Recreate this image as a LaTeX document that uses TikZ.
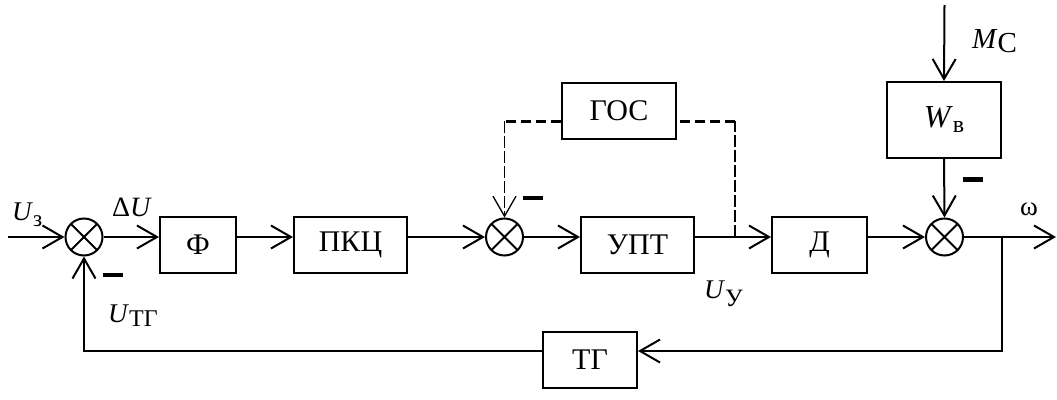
\documentclass[tikz,border=0pt]{standalone}
\usepackage{fontspec}
\setmainfont{Liberation Serif}
\usetikzlibrary{arrows.meta}
\tikzset{
  blk/.style={draw, line width=2pt, rectangle, inner sep=0pt, minimum height=56pt, font=\fontsize{30}{32}\selectfont},
  sum/.style={draw, line width=2pt, circle, minimum size=37pt, inner sep=0pt,
    path picture={\draw[line width=2pt] (path picture bounding box.north west)--(path picture bounding box.south east)
      (path picture bounding box.south west)--(path picture bounding box.north east);}},
  conn/.style={line width=2pt, -{Straight Barb[length=20pt,width=23pt]}},
  dashv/.style={line width=1.3pt, dash pattern=on 12pt off 3pt},
  dashh/.style={line width=3pt, dash pattern=on 10pt off 5pt},
  lbl/.style={anchor=base west, inner sep=0pt, font=\fontsize{27}{27}\selectfont},
}
\begin{document}
\begin{tikzpicture}[x=1pt,y=-1pt]
\useasboundingbox (0,0) rectangle (1057,399);
% blocks
\node[sum] (s1) at (84,237) {};
\node[blk, minimum width=76pt] (f) at (198,245) {Ф};
\node[blk, minimum width=113pt] (pkc) at (350.5,245) {ПКЦ};
\node[sum] (s2) at (504.5,237) {};
\node[blk, minimum width=113pt] (upt) at (637.5,245) {УПТ};
\node[blk, minimum width=95pt] (d) at (819.5,245) {Д};
\node[sum] (s3) at (944.5,237) {};
\node[blk, minimum width=114pt] (gos) at (619,111) {ГОС};
\node[blk, minimum width=114pt, minimum height=76pt] (wv) at (944,120) {\fontsize{32}{32}\selectfont\textit{W}\raisebox{-5pt}{\fontsize{24}{24}\selectfont в}};
\node[blk, minimum width=94pt] (tg) at (590,360) {ТГ};
% coordinates
\coordinate (in) at (8,237);
\coordinate (out) at (1056,237);
\coordinate (br1) at (735,237);
\coordinate (br2) at (1002,237);
\coordinate (top) at (944.5,5);
\coordinate (fbR) at (1002,351);
\coordinate (fbL) at (84,351);
\coordinate (gR) at (735,121);
\coordinate (gL) at (504.5,121);
% connectors
\draw[conn] (in) -- (s1.west);
\draw[conn] (s1.east) -- (f.west |- s1.east);
\draw[conn] (f.east |- s1.east) -- (pkc.west |- s1.east);
\draw[conn] (pkc.east |- s2.west) -- (s2.west);
\draw[conn] (s2.east) -- (upt.west |- s2.east);
\draw[conn] (upt.east |- s2.east) -- (d.west |- s2.east);
\draw[conn] (d.east |- s3.west) -- (s3.west);
\draw[conn] (s3.east) -- (out);
\draw[conn] (br2) -- (fbR) -- (tg.east |- fbR);
\draw[conn] (tg.west |- fbR) -- (fbL) -- (s1.south);
\draw[conn] (top) -- (wv.north);
\draw[conn] (wv.south) -- (s3.north);
% dashed feedback
\draw[dashv] (br1) -- (gR);
\draw[dashh] (gR) -- (gos.east |- gR);
\draw[dashh] (gos.west |- gL) -- (gL);
\draw[dashv, -{Straight Barb[length=20pt,width=23pt]}] (gL) -- (s2.north);
% minus signs
\fill (103,272.5) rectangle (123,276.5);
\fill (523,195.5) rectangle (543,200);
\fill (963,177) rectangle (983,181.5);
% labels
\node[lbl] (lUz) at (12,220) {\textit{U}\raisebox{-6pt}{\fontsize{23}{23}\selectfont з}};
\node[lbl, font=\fontsize{28}{28}\selectfont] (ldU) at (112,216) {Δ\textit{U}};
\node[lbl] (lUtg) at (108,322) {\textit{U}\raisebox{-4pt}{\fontsize{24}{24}\selectfont ТГ}};
\node[lbl] (lUy) at (704,298) {\textit{U}\raisebox{-8pt}{\fontsize{25}{25}\selectfont У}};
\node[lbl, font=\fontsize{29}{29}\selectfont] (lMc) at (972,48) {\textit{M}\raisebox{-4pt}{С}};
\node[lbl, font=\fontsize{27}{27}\selectfont] (lw) at (1020,215) {ω};
\end{tikzpicture}
\end{document}
